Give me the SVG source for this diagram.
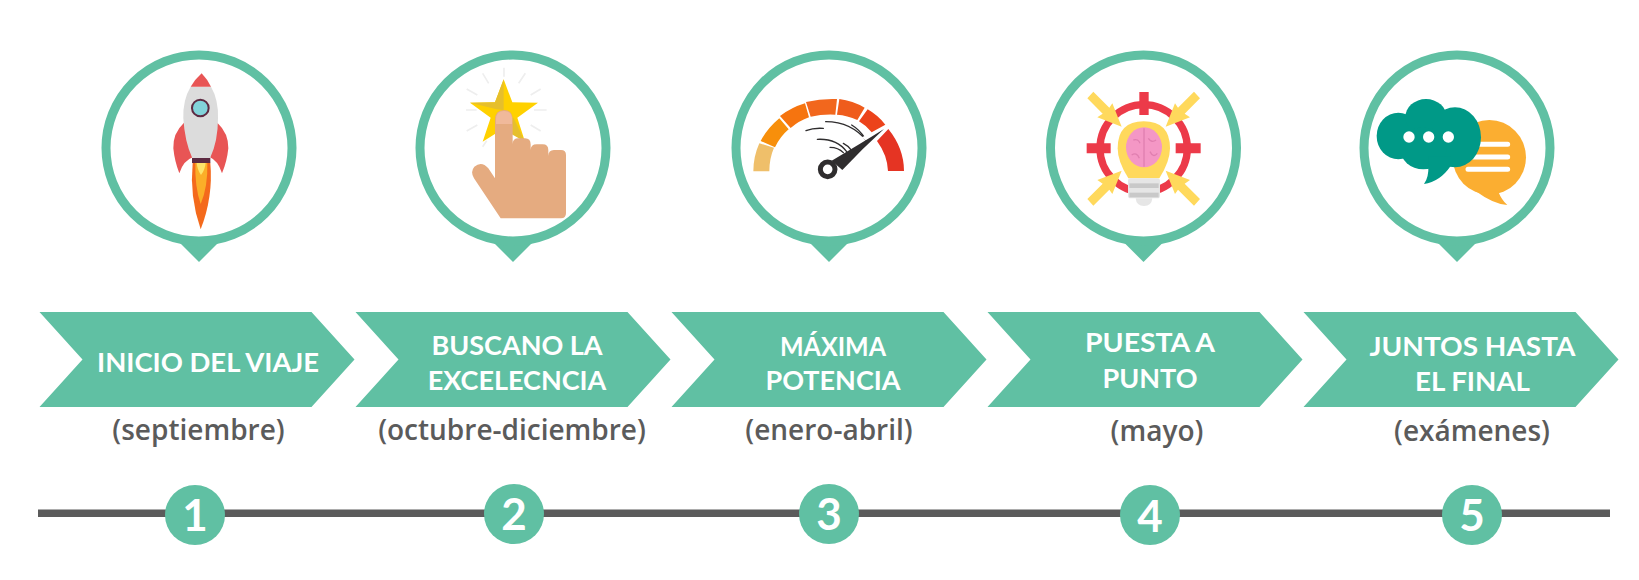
<svg xmlns="http://www.w3.org/2000/svg" xmlns:xlink="http://www.w3.org/1999/xlink" width="1639" height="580" viewBox="0 0 1639 580">
<style>
.ring{fill:#fff;stroke:#60c0a3;stroke-width:9}
.tip,.chev,.num{fill:#60c0a3}
.t{font-family:"Lato","Liberation Sans",sans-serif;font-weight:700;font-size:27px;fill:#fff;text-anchor:middle}
.s{font-family:"Open Sans","Liberation Sans",sans-serif;font-weight:600;font-size:28px;fill:#5b5b5b;text-anchor:middle}
.n{font-family:"Lato","Liberation Sans",sans-serif;font-weight:700;font-size:44px;fill:#fff;text-anchor:middle}
.ray{stroke:#eee;stroke-width:5;fill:none}
.mot{stroke:#2f2d2e;stroke-width:4;fill:none;stroke-linecap:round}
.wl{stroke:#fff;stroke-width:15;stroke-linecap:round;fill:none}
</style>
<defs>
<g id="pin"><path class="tip" d="M-24 90L0 114L24 90Z"/><circle class="ring" cx="0" cy="0" r="93"/></g>
<polygon id="chevron" class="chev" points="0,0 272,0 315,47.5 272,95 0,95 43,47.5"/>
<polygon id="arrow" fill="#ffd95c" points="70,35 118,83 127,70 155,140 82,112 98,101 52,55"/>
</defs>
<rect width="1639" height="580" fill="#fff"/>
<g id="connectors"><rect x="38" y="509.5" width="1572" height="7.5" fill="#5b5b5b"/></g>

<g id="node-1">
<use xlink:href="#pin" href="#pin" x="199" y="148"/>
<g transform="translate(80,30) scale(.33333)">
<path fill="#e85555" d="M312 278Q278 310 280 355Q284 395 298 430Q310 392 338 382ZM412 278Q446 310 445 355Q441 395 426 430Q414 392 390 382Z"/>
<path fill="#f46a1c" d="M338 398Q328 500 362 598Q400 500 391 398Z"/>
<path fill="#fbae28" d="M346 398Q344 470 362 522Q384 470 382 398Z"/>
<path fill="#fde36b" d="M350 398Q352 420 363 435Q375 420 377 398Z"/>
<path fill="#dcdcdc" d="M332 170Q308 210 310 265Q314 335 337 385H390Q414 335 414 265Q416 210 393 170Z"/>
<path fill="#e85555" d="M365 130Q345 148 332 170H393Q382 148 365 130Z"/>
<rect x="336" y="384" width="55" height="15" fill="#5d2a42"/>
<circle cx="361" cy="234" r="25" fill="#82d3da" stroke="#5d2a42" stroke-width="6"/>
</g>
<use xlink:href="#chevron" href="#chevron" x="39.5" y="312"/>
<text class="t" x="208" y="372" textLength="222" lengthAdjust="spacingAndGlyphs">INICIO DEL VIAJE</text>
<text class="s" x="198.5" y="440">(septiembre)</text>
<circle class="num" cx="195" cy="515" r="30"/>
<text class="n" x="195" y="531">1</text>
</g>

<g id="node-2">
<use xlink:href="#pin" href="#pin" x="513" y="148"/>
<g transform="translate(80,30) scale(.33333)">
<path class="ray" d="M1272 113V140M1208 130L1226 160M1336 130L1316 160M1160 177L1192 195M1382 177L1352 195M1158 240H1190M1400 240H1362M1160 303L1192 285M1382 303L1352 285M1208 350L1220 332"/>
<polygon fill="#ffd100" points="1271,148 1297,217 1374,218 1312,263 1335,335 1272,295 1208,335 1232,263 1170,218 1245,217"/>
<polygon fill="#e6bf2c" points="1271,148 1245,217 1170,218 1250,238 1271,240"/>
<polygon fill="#e6bf2c" points="1300,262 1335,335 1290,310"/>
<path fill="#e5ab80" d="M1245 270Q1245 240 1272 240Q1298 240 1298 270V342Q1298 325 1315 325H1335Q1352 325 1352 343V360Q1352 343 1370 343H1388Q1405 343 1405 360V378Q1405 360 1422 360H1443Q1458 360 1458 375V550Q1458 565 1443 565H1262L1182 445Q1170 425 1183 410Q1205 392 1225 415L1245 445Z"/>
<path fill="#f0b99a" d="M1248 282V268Q1248 243 1272 243Q1296 243 1296 268V282Z"/>
</g>
<use xlink:href="#chevron" href="#chevron" x="355.5" y="312"/>
<text class="t" x="517" y="355">BUSCANO LA</text>
<text class="t" x="517" y="390">EXCELECNCIA</text>
<text class="s" x="512" y="440">(octubre-diciembre)</text>
<circle class="num" cx="514" cy="514" r="30"/>
<text class="n" x="514" y="530">2</text>
</g>

<g id="node-3">
<use xlink:href="#pin" href="#pin" x="829" y="148"/>
<g transform="translate(680,30) scale(.33333)">
<path fill="#efbf6a" d="M220 424Q220 380 238 340L282 353Q268 385 268 424Z"/>
<path fill="#f78f0b" d="M242 333Q262 295 298 265L326 298Q300 320 285 352Z"/>
<path fill="#f6740f" d="M300 258Q335 232 375 220L387 262Q358 272 332 294Z"/>
<path fill="#f2671d" d="M378 216Q425 205 471 207L466 254Q428 252 392 260Z"/>
<path fill="#ef5c1c" d="M478 207Q518 212 554 233L532 270Q502 256 471 254Z"/>
<path fill="#ec431b" d="M563 238Q594 256 616 284L575 307Q558 286 537 274Z"/>
<path fill="#e53423" d="M625 297Q672 355 672 423H624Q622 375 591 333Z"/>
<path class="mot" d="M437 275Q515 275 562 335M515 285Q540 300 555 325M378 302Q400 293 430 295M412 328Q470 325 500 365M450 352Q475 352 490 368M490 340Q505 348 512 358"/>
<polygon fill="#fff" points="622,290 575,345 545,322"/>
<path fill="#2f2d2e" d="M612 297Q540 342 455 392L487 420Q545 358 612 297Z"/>
<circle cx="443" cy="418" r="22" fill="#fff" stroke="#2f2d2e" stroke-width="15"/>
</g>
<use xlink:href="#chevron" href="#chevron" x="671.5" y="312"/>
<text class="t" x="833" y="356" textLength="106" lengthAdjust="spacingAndGlyphs">MÁXIMA</text>
<text class="t" x="833" y="390">POTENCIA</text>
<text class="s" x="829" y="440">(enero-abril)</text>
<circle class="num" cx="829" cy="514" r="30"/>
<text class="n" x="829" y="530">3</text>
</g>

<g id="node-4">
<use xlink:href="#pin" href="#pin" x="1143.5" y="148"/>
<g transform="translate(1070,80) scale(.33333)">
<circle cx="221" cy="205" r="131" fill="none" stroke="#ec3a49" stroke-width="22"/>
<path fill="#ec3a49" d="M208 36H236V105H208ZM50 190H122V220H50ZM317 190H392V220H317Z"/>
<path fill="#ffd95c" d="M143 205Q143 124 221 124Q300 124 300 205Q300 245 268 295H175Q143 245 143 205Z"/>
<ellipse cx="222" cy="202" rx="54" ry="60" fill="#f497c5"/>
<path d="M222 145V260M190 180Q205 175 210 190M235 175Q245 190 258 180M185 225Q200 215 208 235M240 215Q250 235 262 220" fill="none" stroke="#e07fb0" stroke-width="4"/>
<path fill="#e6e6e6" d="M197 355H247Q245 378 222 378Q199 378 197 355Z"/>
<rect x="174" y="295" width="96" height="60" rx="8" fill="#e6e6e6"/>
<rect x="178" y="310" width="88" height="14" fill="#c9c9c9"/>
<rect x="178" y="338" width="88" height="14" fill="#c9c9c9"/>
<use xlink:href="#arrow" href="#arrow"/>
<use xlink:href="#arrow" href="#arrow" transform="matrix(-1 0 0 1 442 0)"/>
<use xlink:href="#arrow" href="#arrow" transform="matrix(1 0 0 -1 0 412)"/>
<use xlink:href="#arrow" href="#arrow" transform="matrix(-1 0 0 -1 442 412)"/>
</g>
<use xlink:href="#chevron" href="#chevron" x="987.5" y="312"/>
<text class="t" x="1150" y="352" textLength="130" lengthAdjust="spacingAndGlyphs">PUESTA A</text>
<text class="t" x="1150" y="388">PUNTO</text>
<text class="s" x="1157" y="441">(mayo)</text>
<circle class="num" cx="1150" cy="515" r="30"/>
<text class="n" x="1150" y="532">4</text>
</g>

<g id="node-5">
<use xlink:href="#pin" href="#pin" x="1457" y="148"/>
<g transform="translate(1360,80) scale(.33333)">
<ellipse cx="388" cy="232" rx="110" ry="112" fill="#fbae31"/>
<path fill="#fbae31" d="M350 335Q400 372 442 375Q425 360 415 335Z"/>
<path class="wl" d="M360 193H443M340 231H443M324 268H443"/>
<g fill="#009987">
<ellipse cx="115" cy="168" rx="65" ry="70"/>
<ellipse cx="198" cy="112" rx="62" ry="55"/>
<ellipse cx="285" cy="172" rx="78" ry="90"/>
<ellipse cx="190" cy="205" rx="70" ry="63"/>
<path d="M205 230V255Q207 292 192 312Q240 305 272 258V230Z"/>
</g>
<g fill="#fff"><circle cx="147" cy="171" r="17"/><circle cx="206" cy="171" r="17"/><circle cx="265" cy="171" r="17"/></g>
</g>
<use xlink:href="#chevron" href="#chevron" x="1303.5" y="312"/>
<text class="t" x="1472.5" y="356" textLength="206" lengthAdjust="spacingAndGlyphs">JUNTOS HASTA</text>
<text class="t" x="1472.5" y="391" textLength="115" lengthAdjust="spacingAndGlyphs">EL FINAL</text>
<text class="s" x="1472" y="441">(exámenes)</text>
<circle class="num" cx="1472" cy="515" r="30"/>
<text class="n" x="1472" y="531">5</text>
</g>
</svg>
